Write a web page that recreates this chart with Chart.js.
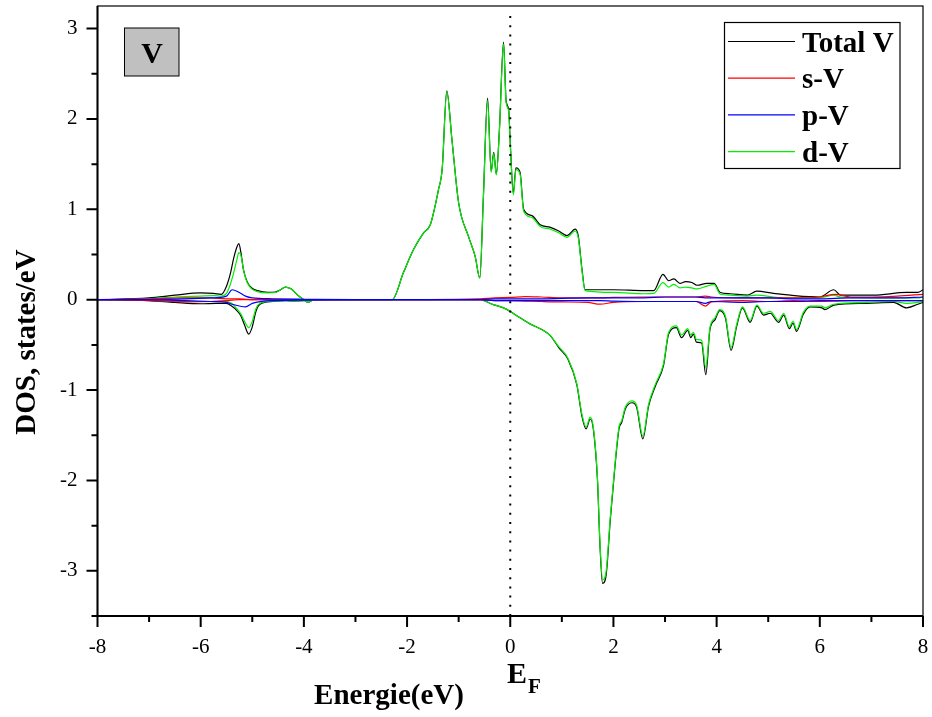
<!DOCTYPE html>
<html>
<head>
<meta charset="utf-8">
<script src="https://cdn.jsdelivr.net/npm/chart.js@4.4.0/dist/chart.umd.min.js"></script>
<style>
  html, body { margin: 0; padding: 0; background: #fff; }
</style>
</head>
<body>
<canvas id="dosChart" width="932" height="717"></canvas>
<script>
// energy grids (eV)
const energyUp = [-8, -7, -6.5, -6, -5.75, -5.6, -5.5, -5.42, -5.36, -5.3, -5.26, -5.22, -5.17, -5.1, -5.01,
  -4.9, -4.7, -4.55, -4.45, -4.36, -4.25, -4.1, -4.0, -3.92, -3.8, -3.0, -2.29, -2.07, -1.87, -1.68,
  -1.55, -1.39, -1.32, -1.23, -1.13, -1.0, -0.81, -0.68, -0.59, -0.52, -0.44, -0.37, -0.32, -0.27, -0.21,
  -0.13, -0.08, -0.03, 0.0, 0.06, 0.11, 0.19, 0.26, 0.42, 0.58, 0.78, 0.94, 1.1, 1.26, 1.32,
  1.39, 1.45, 2.0, 2.6, 2.78, 2.96, 3.07, 3.17, 3.29, 3.4, 3.52, 3.62, 3.81, 3.95, 4.07,
  4.26, 4.59, 4.78, 5.1, 5.43, 6.0, 6.27, 6.4, 7.04, 7.68, 7.9, 8.0];
const energyDown = [-8, -7, -6.5, -6, -5.7, -5.5, -5.4, -5.3, -5.22, -5.15, -5.07, -5.0, -4.93, -4.85, -4.6,
  -4.35, -4.2, -4.0, -3.8, -0.58, -0.35, -0.13, 0.0, 0.19, 0.39, 0.61, 0.78, 0.94, 1.12, 1.29,
  1.39, 1.47, 1.55, 1.61, 1.69, 1.74, 1.79, 1.86, 1.94, 2.03, 2.11, 2.16, 2.23, 2.36, 2.45,
  2.57, 2.68, 2.81, 2.97, 3.07, 3.22, 3.32, 3.44, 3.5, 3.55, 3.61, 3.71, 3.79, 3.87, 3.97,
  4.06, 4.17, 4.28, 4.39, 4.5, 4.65, 4.78, 4.91, 5.04, 5.2, 5.3, 5.41, 5.48, 5.55, 5.68,
  5.81, 6.04, 6.1, 6.27, 6.91, 7.43, 7.68, 7.9, 8.0];
const energySP = [-8, -7, -6.3, -5.8, -5.5, -5.39, -5.25, -5.13, -5.0, -4.6, -4.0, -3.0, -0.6, -0.3, 0.0,
  0.3, 0.6, 1.0, 1.5, 1.74, 2.0, 2.6, 3.0, 3.6, 3.78, 3.9, 4.5, 5.0, 5.5, 6.0,
  6.3, 6.6, 7.0, 7.5, 8.0];

// spin up
const totalUp = [0, 0.02, 0.05, 0.075, 0.07, 0.06, 0.15, 0.3, 0.46, 0.58, 0.62, 0.52, 0.33, 0.2, 0.13,
  0.1, 0.08, 0.085, 0.11, 0.14, 0.12, 0.04, 0.0, -0.03, 0, 0, 0, 0.30, 0.56, 0.74,
  0.83, 1.22, 1.44, 2.31, 1.77, 1.07, 0.70, 0.48, 0.24, 1.15, 2.23, 1.42, 1.63, 1.39, 1.88,
  2.85, 2.20, 2.10, 1.74, 1.18, 1.46, 1.41, 1.0, 0.93, 0.83, 0.80, 0.76, 0.71, 0.78, 0.70,
  0.34, 0.11, 0.11, 0.10, 0.10, 0.28, 0.21, 0.23, 0.18, 0.20, 0.19, 0.16, 0.18, 0.18, 0.08,
  0.066, 0.05, 0.095, 0.07, 0.05, 0.03, 0.11, 0.05, 0.05, 0.08, 0.08, 0.11];
const dUp = [0, 0.01, 0.03, 0.04, 0.045, 0.04, 0.07, 0.18, 0.3, 0.44, 0.52, 0.49, 0.33, 0.19, 0.12,
  0.09, 0.075, 0.08, 0.11, 0.14, 0.12, 0.04, 0, -0.03, 0, 0, 0, 0.30, 0.56, 0.74,
  0.83, 1.22, 1.44, 2.30, 1.77, 1.07, 0.70, 0.48, 0.24, 1.14, 2.20, 1.41, 1.62, 1.38, 1.87,
  2.83, 2.18, 2.08, 1.72, 1.16, 1.44, 1.39, 0.98, 0.91, 0.81, 0.78, 0.74, 0.69, 0.76, 0.68,
  0.32, 0.10, 0.08, 0.066, 0.07, 0.19, 0.14, 0.17, 0.13, 0.14, 0.13, 0.12, 0.15, 0.17, 0.06,
  0.05, 0.04, 0.05, 0.03, 0.02, 0.02, 0.05, 0.03, 0.02, 0.02, 0.02, 0.03];
const sUp = [0, 0.01, 0.02, 0.02, 0.01, 0.01, 0.01, 0.005, 0, 0, 0, 0, 0.01, 0.02, 0.025,
  0.035, 0.03, 0.02, 0.02, 0.02, 0.025, 0.03, 0.03, 0.03, 0.04, 0.03, 0.02, 0.02, 0.02, 0.03,
  0.06, 0.03, 0.03, 0.04, 0.06];
const pUp = [0, 0, 0.01, 0.02, 0.04, 0.11, 0.08, 0.04, 0.02, 0.01, 0.005, 0, 0, 0.01, 0.01,
  0.01, 0.01, 0.015, 0.02, 0.02, 0.02, 0.02, 0.03, 0.03, 0.02, 0.02, 0.02, 0.02, 0.01, 0.01,
  0.015, 0.02, 0.02, 0.02, 0.03];

// spin down
const totalDown = [0, -0.01, -0.03, -0.045, -0.04, -0.04, -0.07, -0.12, -0.18, -0.28, -0.38, -0.3, -0.13, -0.05, -0.02,
  -0.01, -0.015, -0.01, 0, 0, -0.05, -0.09, -0.13, -0.20, -0.27, -0.33, -0.40, -0.53, -0.66, -0.94,
  -1.29, -1.43, -1.32, -1.43, -1.99, -2.73, -3.14, -3.04, -2.43, -1.84, -1.42, -1.36, -1.21, -1.14, -1.19,
  -1.54, -1.18, -0.96, -0.73, -0.38, -0.31, -0.42, -0.34, -0.42, -0.38, -0.47, -0.48, -0.83, -0.33, -0.22,
  -0.12, -0.20, -0.56, -0.29, -0.09, -0.25, -0.07, -0.17, -0.15, -0.25, -0.17, -0.32, -0.26, -0.35, -0.16,
  -0.08, -0.09, -0.11, -0.06, -0.04, -0.03, -0.09, -0.05, -0.03];
const dDown = [0, -0.005, -0.015, -0.02, -0.02, -0.02, -0.04, -0.1, -0.16, -0.24, -0.31, -0.24, -0.1, -0.04, -0.015,
  -0.01, -0.015, -0.01, 0, 0, -0.05, -0.09, -0.13, -0.20, -0.27, -0.33, -0.40, -0.52, -0.65, -0.93,
  -1.27, -1.41, -1.30, -1.41, -1.97, -2.70, -3.10, -3.00, -2.40, -1.82, -1.40, -1.34, -1.19, -1.12, -1.17,
  -1.51, -1.16, -0.94, -0.71, -0.36, -0.29, -0.39, -0.32, -0.39, -0.36, -0.44, -0.45, -0.75, -0.31, -0.20,
  -0.11, -0.18, -0.53, -0.27, -0.08, -0.23, -0.06, -0.15, -0.13, -0.23, -0.15, -0.30, -0.24, -0.33, -0.14,
  -0.07, -0.07, -0.09, -0.05, -0.03, -0.02, -0.04, -0.03, -0.02];
const sDown = [0, -0.01, -0.025, -0.02, -0.01, -0.005, 0, 0, 0, 0, 0, 0, 0, -0.01, -0.01,
  -0.015, -0.02, -0.025, -0.03, -0.05, -0.03, -0.02, -0.02, -0.02, -0.07, -0.025, -0.01, -0.02, -0.01, -0.02,
  -0.015, -0.01, -0.01, -0.01, -0.01];
const pDown = [0, 0, -0.01, -0.02, -0.03, -0.05, -0.07, -0.08, -0.04, -0.01, -0.005, 0, 0, -0.01, -0.01,
  -0.01, -0.01, -0.01, -0.01, -0.01, -0.015, -0.02, -0.02, -0.02, -0.04, -0.02, -0.03, -0.02, -0.02, -0.01,
  -0.01, -0.01, -0.01, -0.01, -0.01];

// ticks
const xTickValues = [-8, -6, -4, -2, 0, 2, 4, 6, 8];
const yTickValues = [-3, -2, -1, 0, 1, 2, 3];

const serif = "'Liberation Serif', 'Times New Roman', serif";

function pts(xs, ys) {
  return xs.map((e, i) => ({ x: e, y: ys[i] }));
}

function series(label, xs, ys, color, order, inLegend) {
  return {
    label: label,
    data: pts(xs, ys),
    borderColor: color,
    borderWidth: 1.2,
    pointRadius: 0,
    fill: false,
    cubicInterpolationMode: 'monotone',
    order: order,
    inLegend: inLegend
  };
}

const datasets = [
  series('Total V', energyUp, totalUp, '#000000', 4, true),
  series('s-V', energySP, sUp, '#ff0000', 2, true),
  series('p-V', energySP, pUp, '#0000ff', 1, true),
  series('d-V', energyUp, dUp, '#00f000', 3, true),
  series('Total V down', energyDown, totalDown, '#000000', 4, false),
  series('s-V down', energySP, sDown, '#ff0000', 2, false),
  series('p-V down', energySP, pDown, '#0000ff', 1, false),
  series('d-V down', energyDown, dDown, '#00f000', 3, false),
  {
    label: 'EF',
    data: [{ x: 0, y: -3.5 }, { x: 0, y: 3.19 }],
    borderColor: '#000000',
    borderWidth: 2,
    borderDash: [2, 7.2],
    pointRadius: 0,
    order: 0,
    inLegend: false
  }
];

// frame, ticks, legend box, labels
const decor = {
  id: 'decor',
  afterDatasetsDraw(chart) {
    const { ctx, chartArea: a, scales } = chart;
    const x = scales.x, y = scales.y;
    ctx.save();
    ctx.strokeStyle = '#000';
    ctx.lineWidth = 1.2;
    ctx.strokeRect(a.left, a.top, a.right - a.left, a.bottom - a.top);
    ctx.lineWidth = 2;
    ctx.beginPath();
    ctx.moveTo(a.left, a.top);
    ctx.lineTo(a.left, a.bottom);
    ctx.lineTo(a.right, a.bottom);
    ctx.stroke();

    ctx.beginPath();
    for (let v = -8; v <= 8; v += 1) {
      const px = x.getPixelForValue(v);
      ctx.moveTo(px, a.bottom);
      ctx.lineTo(px, a.bottom + (v % 2 === 0 ? 11 : 6));
    }
    for (let v = -3.5; v <= 3; v += 0.5) {
      const py = y.getPixelForValue(v);
      ctx.moveTo(a.left, py);
      ctx.lineTo(a.left - (Number.isInteger(v) ? 11 : 6), py);
    }
    ctx.stroke();

    // element tag box
    ctx.fillStyle = '#c0c0c0';
    ctx.fillRect(124.5, 28, 54.5, 48);
    ctx.lineWidth = 1;
    ctx.strokeRect(124.5, 28, 54.5, 48);
    ctx.fillStyle = '#000';
    ctx.font = 'bold 30px ' + serif;
    ctx.textAlign = 'center';
    ctx.textBaseline = 'alphabetic';
    ctx.fillText('V', 152, 63);

    // legend
    ctx.fillStyle = '#fff';
    ctx.fillRect(724.5, 22.5, 175.5, 146);
    ctx.strokeStyle = '#000';
    ctx.lineWidth = 1.2;
    ctx.strokeRect(724.5, 22.5, 175.5, 146);
    const items = chart.data.datasets.filter(d => d.inLegend);
    ctx.font = 'bold 29px ' + serif;
    ctx.textAlign = 'left';
    items.forEach((d, i) => {
      const ry = 41.5 + i * 36.7;
      ctx.strokeStyle = d.borderColor;
      ctx.lineWidth = 1.2;
      ctx.beginPath();
      ctx.moveTo(728, ry);
      ctx.lineTo(795, ry);
      ctx.stroke();
      ctx.fillStyle = '#000';
      ctx.fillText(d.label, 802, ry + 10);
    });

    // axis titles
    ctx.fillStyle = '#000';
    ctx.font = 'bold 29px ' + serif;
    ctx.textAlign = 'center';
    ctx.fillText('Energie(eV)', 389, 704);
    ctx.textAlign = 'left';
    ctx.font = 'bold 30px ' + serif;
    ctx.fillText('E', 507, 683);
    ctx.font = 'bold 21px ' + serif;
    ctx.fillText('F', 528, 693);

    ctx.translate(35, 342);
    ctx.rotate(-Math.PI / 2);
    ctx.font = 'bold 29px ' + serif;
    ctx.textAlign = 'center';
    ctx.fillText('DOS, states/eV', 0, 0);
    ctx.restore();
  }
};

function noEdgePadding(s) {
  s.paddingTop = 0;
  s.paddingBottom = 0;
  s.paddingLeft = 0;
  s.paddingRight = 0;
}

new Chart(document.getElementById('dosChart').getContext('2d'), {
  type: 'line',
  data: { datasets: datasets },
  options: {
    responsive: false,
    animation: false,
    events: [],
    layout: { padding: { top: 6, right: 9, left: 0, bottom: 0 } },
    plugins: { legend: { display: false }, tooltip: { enabled: false } },
    scales: {
      x: {
        type: 'linear',
        min: -8,
        max: 8,
        grid: { display: false, drawTicks: false },
        border: { display: false },
        afterBuildTicks: (s) => { s.ticks = xTickValues.map(v => ({ value: v })); },
        afterFit: (s) => { s.height = 101; noEdgePadding(s); },
        ticks: { color: '#000', padding: 19, maxRotation: 0, font: { family: serif, size: 21 } }
      },
      y: {
        type: 'linear',
        min: -3.5,
        max: 3.25,
        grid: { display: false, drawTicks: false },
        border: { display: false },
        afterBuildTicks: (s) => { s.ticks = yTickValues.map(v => ({ value: v })); },
        afterFit: (s) => { s.width = 97.5; noEdgePadding(s); },
        ticks: { color: '#000', padding: 20, font: { family: serif, size: 21 } }
      }
    }
  },
  plugins: [decor]
});
</script>
</body>
</html>
